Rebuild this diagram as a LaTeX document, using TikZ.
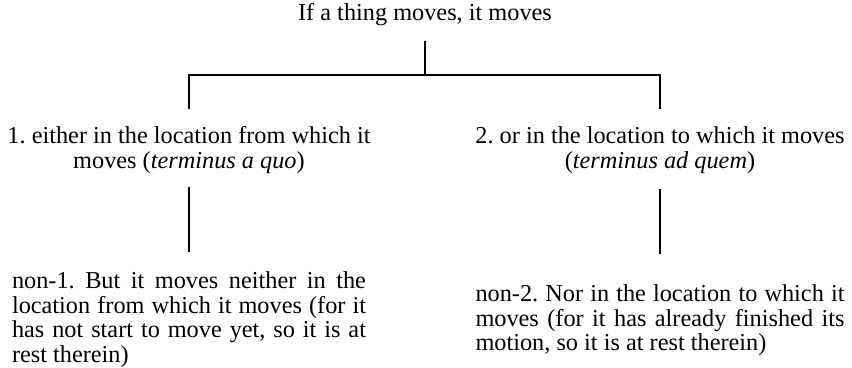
\documentclass[tikz,border=0pt]{standalone}
\usepackage{fontspec}
\setmainfont{Liberation Serif}
\frenchspacing
\usetikzlibrary{positioning}
\tikzset{
  claim/.style={font=\fontsize{12.15}{12.4}\selectfont, inner sep=0pt, align=center},
  negation/.style={claim, align=justify},
  branch/.style={line width=0.65pt},
}

\begin{document}
\begin{tikzpicture}[x=0.5pt, y=-0.5pt]
    \useasboundingbox (0,0) rectangle (852,368);
    \node[claim, anchor=base] (thing) at (425,21) {If a thing moves, it moves};
    \node[claim, anchor=north] (quo) at (189,126) {1. either in the location from which it\\moves (\textit{terminus a quo})};
    \node[claim, anchor=north] (quem) at (660,126) {2. or in the location to which it moves\\(\textit{terminus ad quem})};
    \node[negation, text width=177pt, anchor=north] (nonquo) at (189,271)
      {non-1. But it moves neither in the\linebreak location from which it moves (for it\linebreak has not start to move yet, so it is at\linebreak rest therein)};
    \node[negation, text width=184.5pt, anchor=north] (nonquem) at (660,284)
      {non-2. Nor in the location to which it\linebreak moves (for it has already finished its\linebreak motion, so it is at rest therein)};
    \coordinate (fork) at (425,75);
    \draw[branch, shorten <=7.3pt] (thing.south) -- (fork);
    \draw[branch, shorten >=8.5pt] (fork) -| (quo.north);
    \draw[branch, shorten >=8.5pt] (fork) -| (quem.north);
    \draw[branch, shorten <=6.5pt, shorten >=9.5pt] (quo.south) -- (nonquo.north);
    \draw[branch, shorten <=7.5pt, shorten >=15pt] (quem.south) -- (nonquem.north);
\end{tikzpicture}
\end{document}
